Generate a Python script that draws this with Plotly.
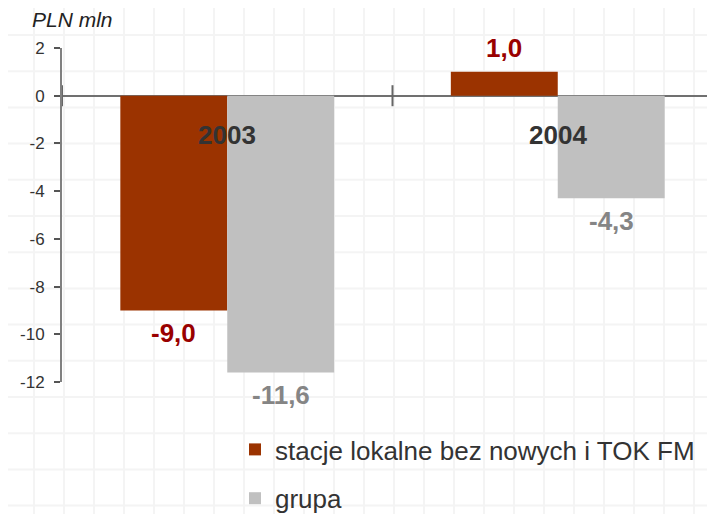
import plotly.graph_objects as go

# ---- data ----
years = ["2003", "2004"]
x_pos = [0, 1]
local_vals = [-9.0, 1.0]
group_vals = [-11.6, -4.3]
local_labels = ["-9,0", "1,0"]
group_labels = ["-11,6", "-4,3"]
series_names = ["stacje lokalne bez nowych i TOK FM", "grupa"]
y_ticks = [-12, -10, -8, -6, -4, -2, 0, 2]

RED = "#9B3300"
GREY = "#C0C0C0"
FONT = "Liberation Sans, Arial, sans-serif"
BARGAP = 0.353
OFF = 8  # page body offset of the figure
W, H = 715, 514
ML, MR, MT, MB = 54, 0, 40, 140
PW, PH = W - ML - MR, H - MT - MB


def px_to_paper_x(px):
    return (px - OFF - ML) / PW


def px_to_paper_y(py):
    return (H - MB - (py - OFF)) / PH


fig = go.Figure()
fig.add_trace(go.Bar(x=x_pos, y=local_vals, name=series_names[0], marker_color=RED,
                     marker_line_width=0, legendgroup="a"))
fig.add_trace(go.Bar(x=x_pos, y=group_vals, name=series_names[1], marker_color=GREY,
                     marker_line_width=0, legendgroup="b"))

# category boundary ticks on the zero line
fig.add_trace(go.Scatter(x=[x - 0.5 for x in x_pos], y=[0] * len(x_pos), mode="markers",
                         marker=dict(symbol="line-ns", size=15, line=dict(width=2, color="#666666")),
                         showlegend=False, hoverinfo="skip", cliponaxis=False))

bw = (1 - BARGAP) / 2
annotations = []
for xp, yr in zip(x_pos, years):
    annotations.append(dict(x=xp, y=0, text="<b>%s</b>" % yr, showarrow=False, yanchor="top", yshift=-22,
                            font=dict(family=FONT, size=26, color="#333333")))
for xp, v, t in zip(x_pos, local_vals, local_labels):
    annotations.append(dict(x=xp - bw / 2, y=v, text="<b>%s</b>" % t, showarrow=False,
                            yanchor="top" if v < 0 else "bottom", yshift=-6 if v < 0 else 7,
                            font=dict(family=FONT, size=26, color="#990000")))
for xp, v, t in zip(x_pos, group_vals, group_labels):
    annotations.append(dict(x=xp + bw / 2, y=v, text="<b>%s</b>" % t, showarrow=False,
                            yanchor="top" if v < 0 else "bottom", yshift=-6 if v < 0 else 7,
                            font=dict(family=FONT, size=26, color="#858585")))
annotations.append(dict(xref="paper", yref="paper", x=px_to_paper_x(30), y=px_to_paper_y(19),
                        text="<i>PLN mln</i>", showarrow=False, xanchor="left", yanchor="middle",
                        font=dict(family=FONT, size=21, color="#222222")))

# faint graph-paper background
shapes = []
for k in range(25):
    px = 4 + 30 * k
    shapes.append(dict(type="line", xref="paper", yref="paper", layer="below",
                       x0=px_to_paper_x(px), x1=px_to_paper_x(px),
                       y0=px_to_paper_y(530), y1=px_to_paper_y(0),
                       line=dict(color="#F4F4F4", width=2)))
for k in range(15):
    py = 35 + 36.2 * k
    shapes.append(dict(type="line", xref="paper", yref="paper", layer="below",
                       x0=px_to_paper_x(0), x1=px_to_paper_x(730),
                       y0=px_to_paper_y(py), y1=px_to_paper_y(py),
                       line=dict(color="#F4F4F4", width=2)))

fig.update_layout(
    width=W, height=H,
    margin=dict(l=ML, r=MR, t=MT, b=MB, pad=0, autoexpand=False),
    paper_bgcolor="white", plot_bgcolor="rgba(0,0,0,0)",
    barmode="group", bargap=BARGAP, bargroupgap=0,
    font=dict(family=FONT, color="#333333"),
    xaxis=dict(range=[-0.5, 1.5], showticklabels=False, showgrid=False,
               zeroline=False, showline=False, ticks="", fixedrange=True),
    yaxis=dict(range=[-12, 2], tickvals=y_ticks, ticktext=[str(t) for t in y_ticks],
               showgrid=False, zeroline=True, zerolinecolor="#707070", zerolinewidth=2,
               showline=True, linecolor="#808080", linewidth=2,
               ticks="outside", ticklen=6, tickwidth=2, tickcolor="#555555",
               tickfont=dict(family=FONT, size=17, color="#333333"), ticklabelstandoff=6),
    legend=dict(xref="paper", yref="paper", x=px_to_paper_x(235), y=px_to_paper_y(426),
                xanchor="left", yanchor="top", bgcolor="rgba(0,0,0,0)",
                font=dict(family=FONT, size=26, color="#333333"),
                tracegroupgap=12, itemwidth=30),
    annotations=annotations,
    shapes=shapes,
    showlegend=True,
)

fig.write_html("out.html")
